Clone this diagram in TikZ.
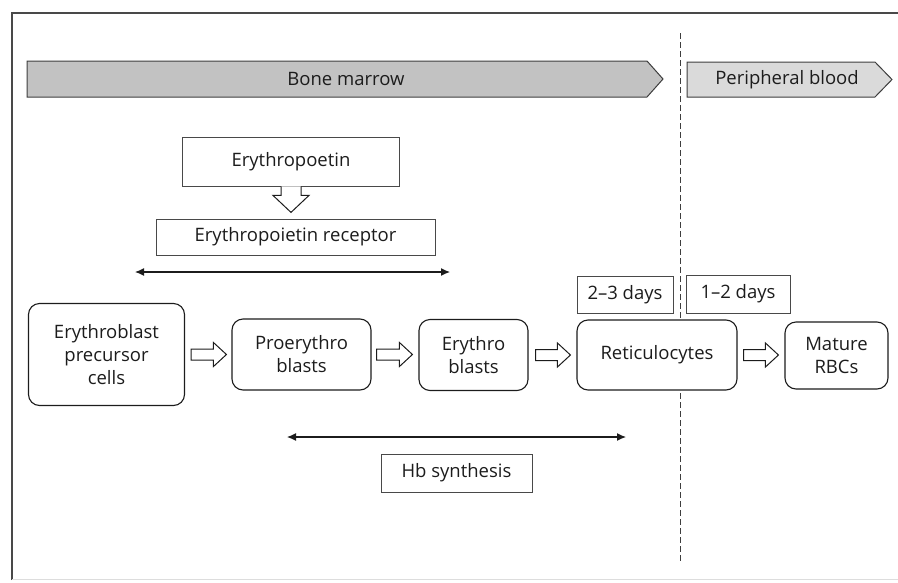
\documentclass[tikz,border=0pt]{standalone}
\usepackage{fontspec}
\setmainfont{Open Sans}
\usetikzlibrary{arrows.meta,calc}
\definecolor{ink}{HTML}{1C1C1C}
\definecolor{bmgray}{HTML}{C2C2C2}
\definecolor{pbgray}{HTML}{DADADA}
\tikzset{
  txt/.style={font=\fontsize{18.5}{23}\selectfont, text=ink, align=center, inner sep=0pt},
  rbox/.style={txt, draw=ink, line width=1.1pt, rounded corners=11pt},
  sbox/.style={txt, draw=ink!80, line width=0.8pt},
  harrow/.style={draw=ink, line width=1pt, fill=white, line join=miter},
  darrow/.style={draw=ink, line width=1.2pt, {Latex[length=9pt,width=8pt]}-{Latex[length=9pt,width=8pt]}},
  banner/.style={draw=ink!85, line width=1pt, line join=miter},
}
\newcommand\hollowR[2]{%
  \draw[harrow] let \p1=(#1), \p2=(#2) in
   (\x1,\y1+5.5pt) -- (\x2-13pt,\y1+5.5pt) -- (\x2-13pt,\y1+12pt) -- (\x2,\y1)
   -- (\x2-13pt,\y1-12pt) -- (\x2-13pt,\y1-5.5pt) -- (\x1,\y1-5.5pt) -- cycle;}
\begin{document}
\begin{tikzpicture}[x=1pt,y=-1pt]
\useasboundingbox (0,0) rectangle (898,582);
% frame
\draw[ink!80, line width=1.2pt] (12,580) -- (12,13) -- (898,13);
\draw[ink!15, line width=0.8pt] (12,579) -- (898,579);
% banners
\draw[banner, fill=bmgray] (27,61) -- (647,61) -- (663,79) -- (647,97) -- (27,97) -- cycle;
\node[txt] (bm) at (346,79) {Bone marrow};
\draw[banner, fill=pbgray] (687,62) -- (875,62) -- (892,79.5) -- (875,97) -- (687,97) -- cycle;
\node[txt] (pb) at (787,79.5) {Peripheral blood};
% dashed divider
\coordinate (dtop) at (680,33);
\coordinate (dbot) at (680,562);
\draw[ink!85, line width=1pt, dash pattern=on 6pt off 3pt] (dtop) -- (dbot);
% erythropoetin
\node[sbox, minimum width=217, minimum height=49] (epo) at (291,161.5) {Erythropoetin};
\node[sbox, minimum width=279, minimum height=36, fill=white] (epor) at (295.5,237) {Erythropoietin receptor};
\draw[harrow] let \p1=(epo.south) in
  (\x1-10pt,\y1) -- (\x1-10pt,\y1-9pt) -- (\x1-18pt,\y1-9pt) -- (\x1,\y1-26pt)
  -- (\x1+18pt,\y1-9pt) -- (\x1+10pt,\y1-9pt) -- (\x1+10pt,\y1) ;
\coordinate (ea1) at (135,272);
\coordinate (ea2) at (450,272);
\draw[darrow] (ea1) -- (ea2);
% time boxes
\node[sbox, minimum width=96, minimum height=37, fill=white] (d23) at (625,294.5) {2–3 days};
\node[sbox, minimum width=104, minimum height=38, fill=white] (d12) at (738,294) {1–2 days};
% main row
\node[rbox, minimum width=156, minimum height=102] (b1) at (106.5,354.5) {Erythroblast\\precursor\\cells};
\node[rbox, minimum width=139, minimum height=71] (b2) at (301.5,354.5) {Proerythro\\blasts};
\node[rbox, minimum width=109, minimum height=71] (b3) at (473.5,355) {Erythro\\blasts};
\node[rbox, minimum width=160, minimum height=70, fill=white] (b4) at (657,355) {Reticulocytes};
\node[rbox, minimum width=103, minimum height=67] (b5) at (836.5,355.5) {Mature\\RBCs};
\hollowR{$(b1.east)+(6,0)$}{$(b2.west)+(-5,0)$}
\hollowR{$(b2.east)+(5,0)$}{$(b3.west)+(-6,0)$}
\hollowR{$(b3.east)+(7,0)$}{$(b4.west)+(-6,0)$}
\hollowR{$(b4.east)+(6,0)$}{$(b5.west)+(-6,0)$}
% Hb synthesis
\coordinate (ha1) at (287,437);
\coordinate (ha2) at (626,437);
\draw[darrow] (ha1) -- (ha2);
\node[sbox, minimum width=151, minimum height=38] (hb) at (456.5,473) {Hb synthesis};
\end{tikzpicture}
\end{document}
